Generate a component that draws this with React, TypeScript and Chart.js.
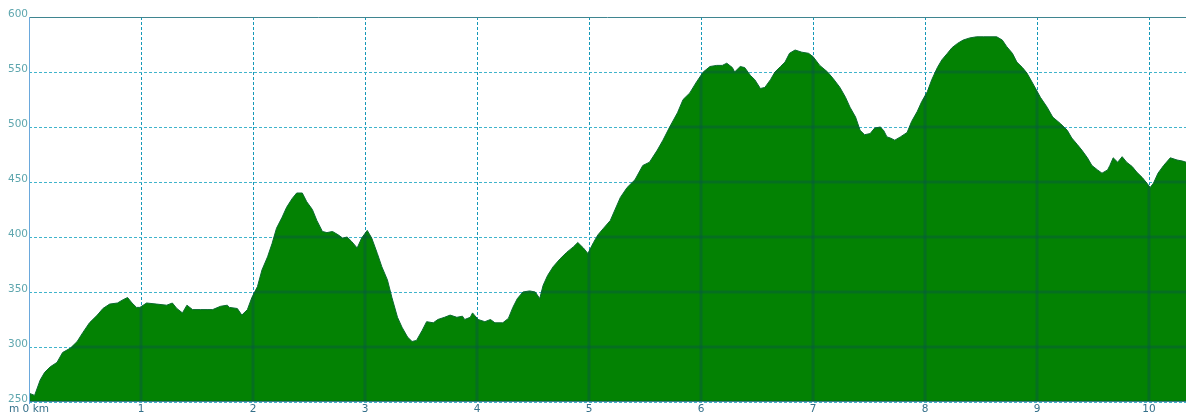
import React, { useEffect, useRef } from "react";
import { Chart, registerables } from "chart.js";

Chart.register(...registerables);

// distance along route (km)
const distances = [
  0.0, 0.05, 0.1, 0.14, 0.19, 0.25, 0.3, 0.37, 0.43, 0.48, 0.54, 0.61, 0.66, 0.72, 0.79, 0.84, 0.88, 0.92, 0.96, 0.99,
  1.05, 1.14, 1.23, 1.28, 1.32, 1.37, 1.41, 1.46, 1.53, 1.59, 1.64, 1.71, 1.77, 1.79, 1.86, 1.9, 1.95, 1.99,
  2.04, 2.08, 2.13, 2.17, 2.21, 2.26, 2.3, 2.35, 2.39, 2.44, 2.48, 2.53, 2.57, 2.62, 2.66, 2.71, 2.76, 2.8, 2.84, 2.88, 2.93, 2.97,
  3.02, 3.06, 3.11, 3.15, 3.2, 3.24, 3.29, 3.33, 3.38, 3.42, 3.46, 3.51, 3.55, 3.61, 3.65, 3.71, 3.76, 3.82, 3.87, 3.89, 3.94, 3.96,
  4.01, 4.07, 4.12, 4.16, 4.23, 4.28, 4.32, 4.36, 4.41, 4.47, 4.52, 4.56, 4.59, 4.63, 4.68, 4.74, 4.8, 4.86, 4.9, 4.95, 4.99,
  5.04, 5.08, 5.13, 5.19, 5.28, 5.34, 5.41, 5.48, 5.54, 5.61, 5.66, 5.72, 5.79, 5.84, 5.9, 5.96,
  6.02, 6.08, 6.14, 6.19, 6.23, 6.28, 6.3, 6.35, 6.39, 6.44, 6.48, 6.53, 6.57, 6.62, 6.66, 6.71, 6.75, 6.79, 6.84, 6.9, 6.96,
  7.0, 7.06, 7.13, 7.18, 7.24, 7.29, 7.33, 7.38, 7.42, 7.46, 7.51, 7.55, 7.6, 7.63, 7.66, 7.69, 7.73, 7.78, 7.84, 7.88, 7.93, 7.97,
  8.02, 8.06, 8.11, 8.15, 8.2, 8.24, 8.29, 8.34, 8.4, 8.46, 8.52, 8.58, 8.64, 8.69, 8.73, 8.78, 8.82, 8.87, 8.91, 8.96,
  9.03, 9.09, 9.14, 9.21, 9.27, 9.31, 9.36, 9.4, 9.45, 9.49, 9.54, 9.58, 9.63, 9.65, 9.68, 9.72, 9.76, 9.8, 9.85, 9.89, 9.94, 9.98,
  10.01, 10.04, 10.08, 10.13, 10.19, 10.25, 10.3, 10.33,
];

// elevation (m)
const elevations = [
  258, 256, 270, 277, 282, 286, 295, 299, 305, 313, 322, 329, 335, 339, 340, 343, 345, 340, 336, 336,
  340, 339, 338, 340, 335, 331, 338, 334, 334, 334, 334, 337, 338, 336, 335, 329, 334, 345,
  355, 370, 382, 394, 408, 418, 427, 435, 440, 440, 432, 425, 415, 405, 404, 405, 402, 399, 400, 396, 390, 399,
  406, 399, 385, 373, 361, 345, 327, 318, 309, 305, 306, 315, 323, 322, 325, 327, 329, 327, 328, 325, 327, 331,
  325, 323, 325, 322, 322, 326, 336, 344, 350, 351, 350, 344, 356, 365, 373, 380, 386, 391, 395, 390, 385,
  395, 402, 408, 415, 436, 445, 452, 465, 468, 479, 488, 500, 513, 525, 531, 541,
  550, 555, 556, 556, 558, 554, 550, 555, 554, 547, 543, 535, 536, 543, 550, 555, 559, 567, 570, 568, 567,
  564, 556, 550, 544, 536, 527, 518, 509, 497, 493, 494, 499, 500, 497, 491, 490, 488, 491, 495, 505, 514, 523,
  532, 543, 554, 561, 567, 572, 576, 579, 581, 582, 582, 582, 582, 579, 573, 567, 559, 554, 549, 540,
  527, 518, 509, 503, 497, 490, 484, 479, 472, 465, 461, 458, 461, 465, 472, 468, 473, 468, 464, 459, 454, 449,
  445, 449, 458, 465, 472, 470, 469, 468,
];

const xTickValues = [0, 1, 2, 3, 4, 5, 6, 7, 8, 9, 10];
const xTickLabels = ["m 0 km", "1", "2", "3", "4", "5", "6", "7", "8", "9", "10"];
const yTickValues = [250, 300, 350, 400, 450, 500, 550, 600];

const X_MIN = 0;
const X_MAX = 10.33;
const Y_MIN = 250;
const Y_MAX = 600;

const overlayPlugin = {
  id: "profileOverlay",
  afterDatasetsDraw(chart: any) {
    const { ctx, chartArea } = chart;
    const meta = chart.getDatasetMeta(0);
    const pts = meta.data;
    if (!pts || !pts.length) return;
    const xs = chart.scales.x;
    const ys = chart.scales.y;
    ctx.save();
    ctx.beginPath();
    ctx.moveTo(pts[0].x, chartArea.bottom);
    for (const p of pts) ctx.lineTo(p.x, p.y);
    ctx.lineTo(pts[pts.length - 1].x, chartArea.bottom);
    ctx.closePath();
    ctx.clip();
    ctx.strokeStyle = "rgba(10, 85, 75, 0.42)";
    ctx.lineWidth = 3;
    xs.ticks.forEach((_t: any, i: number) => {
      const px = xs.getPixelForTick(i);
      ctx.beginPath();
      ctx.moveTo(px, chartArea.top);
      ctx.lineTo(px, chartArea.bottom);
      ctx.stroke();
    });
    ys.ticks.forEach((_t: any, i: number) => {
      const py = ys.getPixelForTick(i);
      ctx.beginPath();
      ctx.moveTo(chartArea.left, py);
      ctx.lineTo(chartArea.right, py);
      ctx.stroke();
    });
    ctx.restore();

    // frame: top border, bottom line and left axis
    ctx.save();
    ctx.lineWidth = 1;
    ctx.strokeStyle = "#3f8590";
    ctx.beginPath();
    ctx.moveTo(chartArea.left, chartArea.top + 0.5);
    ctx.lineTo(chartArea.right, chartArea.top + 0.5);
    ctx.stroke();
    ctx.strokeStyle = "#3d7d8a";
    ctx.beginPath();
    ctx.moveTo(chartArea.left, chartArea.bottom - 0.5);
    ctx.lineTo(chartArea.right, chartArea.bottom - 0.5);
    ctx.stroke();
    ctx.strokeStyle = "#6aa8dc";
    ctx.beginPath();
    ctx.moveTo(chartArea.left + 0.5, chartArea.top);
    ctx.lineTo(chartArea.left + 0.5, chartArea.bottom + 2);
    ctx.stroke();
    ctx.restore();
  },
};

export default function App() {
  const canvasRef = useRef<HTMLCanvasElement | null>(null);

  useEffect(() => {
    document.body.style.margin = "0";
    const canvas = canvasRef.current;
    if (!canvas) return;
    const points = distances.map((d, i) => ({ x: d, y: elevations[i] }));
    const chart = new Chart(canvas, {
      type: "line",
      data: {
        datasets: [
          {
            data: points,
            fill: "start",
            backgroundColor: "#038203",
            borderColor: "#0a6a30",
            borderWidth: 1,
            pointRadius: 0,
            tension: 0,
          },
        ],
      },
      options: {
        animation: false,
        responsive: false,
        maintainAspectRatio: false,
        layout: { padding: { top: 17, right: 0, left: 0, bottom: 0 } },
        plugins: { legend: { display: false }, tooltip: { enabled: false } },
        scales: {
          x: {
            type: "linear",
            min: X_MIN,
            max: X_MAX,
            afterBuildTicks: (scale: any) => {
              scale.ticks = xTickValues.map((v) => ({ value: v }));
            },
            afterFit: (scale: any) => {
              scale.height = 12;
            },
            border: { display: false, dash: [3, 2] },
            grid: {
              color: "#1598b8",
              lineWidth: 1,
              drawTicks: false,
            },
            ticks: {
              autoSkip: false,
              maxRotation: 0,
              padding: 1,
              color: "#35708a",
              font: { family: "DejaVu Sans", size: 10.5 },
              callback: (v: any) => {
                const idx = xTickValues.indexOf(Number(v));
                return idx >= 0 ? xTickLabels[idx] : "";
              },
            },
          },
          y: {
            type: "linear",
            min: Y_MIN,
            max: Y_MAX,
            afterBuildTicks: (scale: any) => {
              scale.ticks = yTickValues.map((v) => ({ value: v }));
            },
            afterFit: (scale: any) => {
              scale.width = 29;
            },
            border: { display: false, dash: [3, 2] },
            grid: {
              color: "#40b4cc",
              lineWidth: 1,
              drawTicks: false,
            },
            ticks: {
              autoSkip: false,
              padding: 1,
              labelOffset: -3,
              color: "#5ea6ae",
              font: { family: "DejaVu Sans", size: 10.5 },
            },
          },
        },
      } as any,
      plugins: [overlayPlugin],
    });
    return () => chart.destroy();
  }, []);

  return (
    <div style={{ width: 1186, height: 414, background: "#fff" }}>
      <canvas ref={canvasRef} width={1186} height={414} />
    </div>
  );
}
